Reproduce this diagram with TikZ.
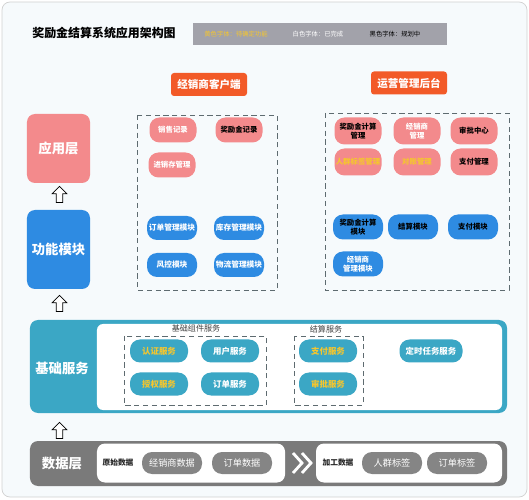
\documentclass[tikz,border=0pt]{standalone}
\usepackage{fontspec}
\setmainfont{Noto Sans CJK SC}
\usepackage{tikz}
\usetikzlibrary{shapes.arrows}
\definecolor{pagebg}{HTML}{F6FAFC}
\definecolor{appred}{HTML}{F38A8C}
\definecolor{funcblue}{HTML}{2E8BE2}
\definecolor{baseteal}{HTML}{3BA7C5}
\definecolor{datagray}{HTML}{7A7A7A}
\definecolor{pillgray}{HTML}{858585}
\definecolor{headorange}{HTML}{F25A28}
\definecolor{todoyellow}{HTML}{F5C62E}
\definecolor{legendgray}{HTML}{A2A2AA}
\definecolor{dashgray}{HTML}{5E6B70}
\newcommand{\setfs}[2]{\fontsize{#1}{#2}\selectfont}

\begin{document}
\begin{tikzpicture}
  [x = .5mm, y = -.5mm,
   pill/.style = {rounded corners = 5mm, inner sep = 0pt, align = center},
   layerbox/.style = {rounded corners = 4mm, text = white, minimum width = 31.5mm,
     font = \bfseries\setfs{19pt}{21pt}},
   layerlabel/.style = {text = white, font = \bfseries\setfs{19pt}{21pt}},
   headbtn/.style = {rounded corners = 1.5mm, fill = headorange, text = white,
     minimum width = 38mm, minimum height = 11.5mm, font = \bfseries\setfs{15pt}{17pt}},
   groupbox/.style = {draw = dashgray, line width = .7pt, dash pattern = on 2.6mm off 1.8mm},
   grouplabel/.style = {text = black!75, font = \setfs{11.5pt}{13pt}},
   uparrow/.style = {single arrow, draw = black, fill = white, line width = 1pt,
     shape border rotate = 90, minimum height = 8mm, inner sep = 1.4mm,
     single arrow head extend = 2.1mm}]

  % page and title
  \useasboundingbox (0,0) rectangle (529,500);
  \draw[fill = pagebg, draw = black!18, line width = 1pt, rounded corners = 4mm] (2,2) rectangle (527,497);
  \node[font = \bfseries\setfs{17pt}{19pt}] (title) at (104,33) {奖励金结算系统应用架构图};
  \node[fill = legendgray, anchor = west, minimum width = 127mm, minimum height = 11mm] (legend) at (193,34) {};
  \node[text = todoyellow, font = \setfs{9pt}{10pt}] (legendtodo) at (236,34) {黄色字体：待确定功能};
  \node[text = white, font = \setfs{9pt}{10pt}] (legenddone) at (318,34) {白色字体：已完成};
  \node[text = black, font = \setfs{9pt}{10pt}] (legendplan) at (395,34) {黑色字体：规划中};

  \node[headbtn] (clienthead) at (209,84.5) {经销商客户端};
  \node[headbtn] (adminhead) at (409,83) {运营管理后台};

  % layers on the left
  \node[layerbox, fill = appred, minimum height = 34.5mm] (applayer) at (58.5,148.5) {应用层};
  \node[layerbox, fill = funcblue, minimum height = 39.5mm] (funclayer) at (58.5,249.5) {功能模块};
  \node[uparrow] (uptoapp) at (59.5,196) {};
  \node[uparrow] (uptofunc) at (59.5,305) {};
  \node[uparrow] (uptobase) at (59.5,432) {};

  % dealer client and admin back end
  \draw[groupbox] (137,115) rectangle (277,290);
  \draw[groupbox] (325,113) rectangle (509,290);
  \foreach \n/\x/\y/\c/\t in {salesrec/173/130/white/销售记录, bonusrec/239/130/black/奖励金记录,
      invmgmt/172/165/white/进销存管理}{
    \node[pill, fill = appred, text = \c, minimum width = 23.5mm, minimum height = 12.5mm,
      font = \bfseries\setfs{10.5pt}{12pt}] (\n) at (\x,\y) {\t};
  }
  \foreach \n/\x/\y/\t in {ordermod/172/228/订单管理模块, stockmod/239/228/库存管理模块,
      riskmod/172/265/风控模块, logimod/239/265/物流管理模块}{
    \node[pill, fill = funcblue, text = white, minimum width = 25mm, minimum height = 12mm,
      font = \bfseries\setfs{11pt}{12pt}] (\n) at (\x,\y) {\t};
  }
  \foreach \n/\x/\y/\c/\t in {bonuscalc/358/131/black/{奖励金计算\\管理}, dealermgmt/417/131/white/{经销商\\管理},
      approvecenter/474/131/black/审批中心, tagmgmt/358/162/todoyellow/人群标签管理,
      reconmgmt/417/162/todoyellow/对账管理, paymgmt/474/162/black/支付管理}{
    \node[pill, fill = appred, text = \c, minimum width = 23.5mm, minimum height = 13.5mm,
      font = \bfseries\setfs{10.5pt}{12.5pt}] (\n) at (\x,\y) {\t};
  }
  \foreach \n/\x/\y/\c/\t in {calcmod/358/227/black/{奖励金计算\\模块}, settlemod/413/227/black/结算模块,
      paymod/473/227/black/支付模块, dealermod/358/264/white/{经销商\\管理模块}}{
    \node[pill, fill = funcblue, text = \c, minimum width = 25mm, minimum height = 12.5mm,
      font = \bfseries\setfs{10.5pt}{12.5pt}] (\n) at (\x,\y) {\t};
  }

  % base services
  \node[fill = baseteal, rounded corners = 4mm, minimum width = 238.5mm, minimum height = 46.5mm] (basestrip) at (268.5,366.5) {};
  \node[fill = white, rounded corners = 3mm, minimum width = 202.5mm, minimum height = 43mm] (baseinner) at (299.5,367) {};
  \node[layerlabel] (baselabel) at (62,368) {基础服务};
  \node[grouplabel] (corelabel) at (196,328) {基础组件服务};
  \node[grouplabel] (settlelabel) at (326,329) {结算服务};
  \draw[groupbox] (124,336) rectangle (266,405);
  \draw[groupbox] (294,336) rectangle (363,405);
  \foreach \n/\x/\y/\c/\w/\t in {authsvc/159/351/todoyellow/29/认证服务, usersvc/230/351/white/29/用户服务,
      grantsvc/159/384/todoyellow/29/授权服务, ordersvc/230/384/white/29/订单服务,
      paysvc/328/351/todoyellow/29/支付服务, auditsvc/328/384/todoyellow/29/审批服务,
      cronsvc/431/351/white/31.5/定时任务服务}{
    \node[pill, fill = baseteal, text = \c, minimum width = \w mm, minimum height = 11.5mm,
      font = \bfseries\setfs{12pt}{13pt}] (\n) at (\x,\y) {\t};
  }

  % data layer
  \node[fill = datagray, rounded corners = 4mm, minimum width = 238.5mm, minimum height = 22.5mm] (datastrip) at (268.5,463.5) {};
  \node[layerlabel] (datalabel) at (62,463) {数据层};
  \node[fill = white, rounded corners = 4mm, minimum width = 94mm, minimum height = 19.5mm] (rawbox) at (191,463) {};
  \node[fill = white, rounded corners = 4mm, minimum width = 93mm, minimum height = 19.5mm] (procbox) at (409,463) {};
  \node[text = black!85, font = \bfseries\setfs{11pt}{12pt}] (rawlabel) at (118,463) {原始数据};
  \node[text = black!85, font = \bfseries\setfs{11pt}{12pt}] (proclabel) at (338,463) {加工数据};
  \foreach \n/\x/\y/\t in {dealerdata/172/463/经销商数据, orderdata/242/463/订单数据,
      crowdtag/392/463/人群标签, ordertag/457/463/订单标签}{
    \node[pill, fill = pillgray, text = white, minimum width = 30mm, minimum height = 11mm,
      font = \setfs{13pt}{14pt}] (\n) at (\x,\y) {\t};
  }
  \foreach \x in {293,302}{
    \draw[white, line width = 4pt] (\x,453) -- (\x+9,463) -- (\x,473);
  }
\end{tikzpicture}
\end{document}
